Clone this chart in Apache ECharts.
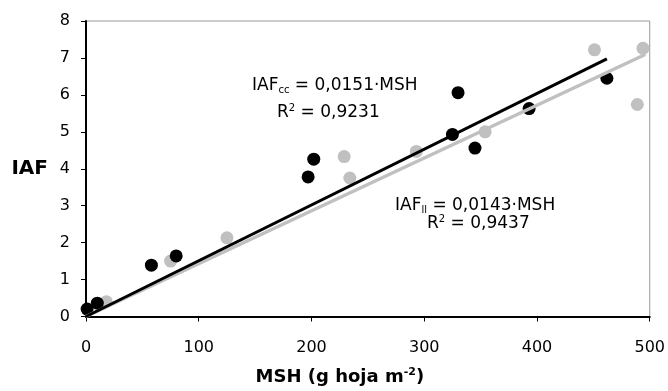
<!DOCTYPE html>
<html><head><meta charset="utf-8">
<script src="https://cdn.jsdelivr.net/npm/echarts@6/dist/echarts.min.js"></script>
<style>html,body{margin:0;padding:0;background:#fff}#c{width:668px;height:391px}</style>
</head><body><div id="c"></div>
<script>
var ccX = [1, 10, 58, 80, 197, 202, 325, 330, 345, 393, 462];
var ccY = [0.2, 0.36, 1.39, 1.64, 3.78, 4.26, 4.93, 6.06, 4.56, 5.63, 6.45];
var llX = [18, 75, 125, 229, 234, 293, 354, 451, 489, 494];
var llY = [0.4, 1.5, 2.13, 4.33, 3.75, 4.47, 5.0, 7.22, 5.74, 7.26];
var ccSlope = 0.0151, ccEnd = 462;
var llSlope = 0.0143, llEnd = 496;

var FONT = '"DejaVu Sans", sans-serif';
function pairs(xs, ys){ return xs.map(function(x,i){return [x, ys[i]];}); }
var chart = echarts.init(document.getElementById('c'), null, {renderer:'canvas'});
var rich = {
  a:{fontSize:17, fontFamily:FONT, color:'#000', lineHeight:20},
  sub:{fontSize:10, fontFamily:FONT, color:'#000', lineHeight:10, verticalAlign:'bottom'},
  sup:{fontSize:10, fontFamily:FONT, color:'#000', lineHeight:10, verticalAlign:'top'}
};
chart.setOption({
  animation:false,
  grid:{left:86, right:16, top:21, bottom:71, show:true, borderColor:'#999', borderWidth:1, backgroundColor:'transparent'},
  xAxis:{type:'value', min:0, max:500, interval:100,
    axisLine:{show:true, lineStyle:{color:'#000', width:2}},
    axisTick:{show:true, inside:false, length:5, lineStyle:{color:'#000', width:1}},
    splitLine:{show:false},
    axisLabel:{fontSize:16, fontFamily:FONT, color:'#000', margin:23},
    name:'{b|MSH (g hoja m}{bs|-2}{b|)}', nameLocation:'middle', nameGap:50,
    nameTextStyle:{padding:[0,56,0,0], rich:{
      b:{fontSize:18, fontWeight:'bold', fontFamily:FONT, color:'#000', lineHeight:21},
      bs:{fontSize:11, fontWeight:'bold', fontFamily:FONT, color:'#000', lineHeight:11, verticalAlign:'top'}
    }}
  },
  yAxis:{type:'value', min:0, max:8, interval:1,
    axisLine:{show:true, lineStyle:{color:'#000', width:2}},
    axisTick:{show:true, inside:false, length:5, lineStyle:{color:'#000', width:1}},
    splitLine:{show:false},
    axisLabel:{fontSize:16, fontFamily:FONT, color:'#000', margin:16},
    name:'IAF', nameLocation:'middle', nameRotate:0, nameGap:38,
    nameTextStyle:{fontSize:20, fontWeight:'bold', fontFamily:FONT, color:'#000', padding:[7,0,0,0]}
  },
  series:[
    {type:'scatter', data:pairs(llX, llY), symbolSize:13, itemStyle:{color:'#c0c0c0', opacity:1}, z:2},
    {type:'scatter', data:pairs(ccX, ccY), symbolSize:13, itemStyle:{color:'#000', opacity:1}, z:3},
    {type:'line', data:[[0,0],[llEnd, llEnd*llSlope]], showSymbol:false, lineStyle:{color:'#c0c0c0', width:3.5}, z:4},
    {type:'line', data:[[0,0],[ccEnd, ccEnd*ccSlope]], showSymbol:false, lineStyle:{color:'#000', width:3}, z:5}
  ],
  graphic:[
    {type:'text', left:252, top:77, style:{text:'{a|IAF}{sub|cc}{a| = 0,0151·MSH}', rich:rich}},
    {type:'text', left:277, top:103, style:{text:'{a|R}{sup|2}{a| = 0,9231}', rich:rich}},
    {type:'text', left:395, top:197, style:{text:'{a|IAF}{sub|ll}{a| = 0,0143·MSH}', rich:rich}},
    {type:'text', left:427, top:214, style:{text:'{a|R}{sup|2}{a| = 0,9437}', rich:rich}}
  ]
});
</script></body></html>
